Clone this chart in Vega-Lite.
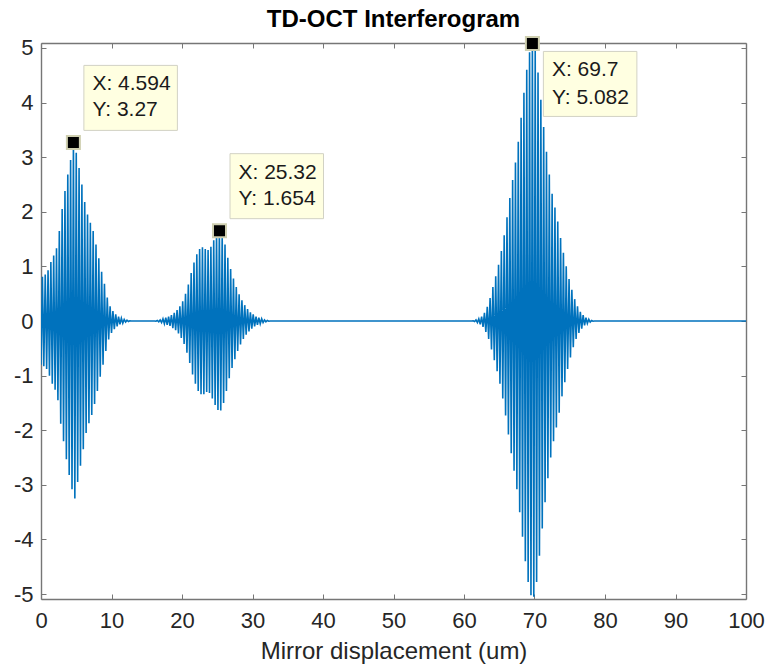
{
  "$schema": "https://vega.github.io/schema/vega-lite/v6.json",
  "width": 705,
  "height": 556,
  "autosize": {"type": "none"},
  "padding": {"left": 41, "top": 43, "right": 20, "bottom": 67},
  "background": "white",
  "config": {
    "view": {"stroke": null},
    "font": "Liberation Sans",
    "axis": {
      "domainColor": "#767676",
      "domainWidth": 1.4,
      "tickColor": "#767676",
      "tickWidth": 1,
      "tickSize": -5,
      "grid": false,
      "labelFont": "Liberation Sans",
      "labelFontSize": 22,
      "labelColor": "#262626",
      "titleFont": "Liberation Sans",
      "titleFontSize": 24,
      "titleFontWeight": "normal",
      "titleColor": "#262626",
      "zindex": 1
    }
  },
  "title": {
    "text": "TD-OCT Interferogram",
    "font": "Liberation Sans",
    "fontSize": 24,
    "fontWeight": "bold",
    "color": "#000000",
    "anchor": "middle",
    "baseline": "bottom",
    "offset": 0,
    "dy": 23
  },
  "datasets": {
    "signal": [
      {"x": 0, "y": -0.8}, {"x": 0.2, "y": 0.81}, {"x": 0.4, "y": -0.83}, {"x": 0.6, "y": 0.85}, {"x": 0.8, "y": -0.88},
      {"x": 1.0, "y": 0.93}, {"x": 1.2, "y": -1.0}, {"x": 1.4, "y": 1.08}, {"x": 1.6, "y": -1.15}, {"x": 1.8, "y": 1.2},
      {"x": 2.0, "y": -1.26}, {"x": 2.2, "y": 1.33}, {"x": 2.4, "y": -1.45}, {"x": 2.6, "y": 1.65}, {"x": 2.8, "y": -1.88},
      {"x": 3.0, "y": 2.05}, {"x": 3.2, "y": -2.2}, {"x": 3.4, "y": 2.38}, {"x": 3.6, "y": -2.53}, {"x": 3.8, "y": 2.68},
      {"x": 4.0, "y": -2.82}, {"x": 4.2, "y": 2.95}, {"x": 4.4, "y": -3.08}, {"x": 4.6, "y": 3.27}, {"x": 4.8, "y": -3.25},
      {"x": 5.0, "y": 3.08}, {"x": 5.2, "y": -2.95}, {"x": 5.4, "y": 2.8}, {"x": 5.6, "y": -2.65}, {"x": 5.8, "y": 2.5},
      {"x": 6.0, "y": -2.35}, {"x": 6.2, "y": 2.18}, {"x": 6.4, "y": -2.05}, {"x": 6.6, "y": 1.95}, {"x": 6.8, "y": -1.87},
      {"x": 7.0, "y": 1.8}, {"x": 7.2, "y": -1.72}, {"x": 7.4, "y": 1.65}, {"x": 7.6, "y": -1.52}, {"x": 7.8, "y": 1.4},
      {"x": 8.0, "y": -1.28}, {"x": 8.2, "y": 1.15}, {"x": 8.4, "y": -1.02}, {"x": 8.6, "y": 0.9}, {"x": 8.8, "y": -0.8},
      {"x": 9.0, "y": 0.68}, {"x": 9.2, "y": -0.55}, {"x": 9.4, "y": 0.43}, {"x": 9.6, "y": -0.34}, {"x": 9.8, "y": 0.27},
      {"x": 10.0, "y": -0.22}, {"x": 10.2, "y": 0.18}, {"x": 10.4, "y": -0.15}, {"x": 10.6, "y": 0.12}, {"x": 10.8, "y": -0.1},
      {"x": 11.0, "y": 0.08}, {"x": 11.2, "y": -0.06}, {"x": 11.4, "y": 0.05}, {"x": 11.6, "y": -0.04}, {"x": 11.8, "y": 0.03},
      {"x": 12.0, "y": -0.02}, {"x": 12.2, "y": 0.015}, {"x": 12.4, "y": -0.01}, {"x": 12.6, "y": 0.005}, {"x": 12.8, "y": 0},
      {"x": 16.1, "y": 0},
      {"x": 16.3, "y": -0.005}, {"x": 16.5, "y": 0.01}, {"x": 16.7, "y": -0.015}, {"x": 16.9, "y": 0.02}, {"x": 17.1, "y": -0.03},
      {"x": 17.3, "y": 0.04}, {"x": 17.5, "y": -0.05}, {"x": 17.7, "y": 0.06}, {"x": 17.9, "y": -0.07}, {"x": 18.1, "y": 0.08},
      {"x": 18.3, "y": -0.09}, {"x": 18.5, "y": 0.11}, {"x": 18.7, "y": -0.13}, {"x": 18.9, "y": 0.15}, {"x": 19.1, "y": -0.17},
      {"x": 19.3, "y": 0.2}, {"x": 19.5, "y": -0.23}, {"x": 19.7, "y": 0.27}, {"x": 19.9, "y": -0.31}, {"x": 20.1, "y": 0.36},
      {"x": 20.3, "y": -0.42}, {"x": 20.5, "y": 0.5}, {"x": 20.7, "y": -0.58}, {"x": 20.9, "y": 0.67}, {"x": 21.1, "y": -0.77},
      {"x": 21.3, "y": 0.88}, {"x": 21.5, "y": -0.98}, {"x": 21.7, "y": 1.07}, {"x": 21.9, "y": -1.15}, {"x": 22.1, "y": 1.22},
      {"x": 22.3, "y": -1.28}, {"x": 22.5, "y": 1.32}, {"x": 22.7, "y": -1.34}, {"x": 22.9, "y": 1.35}, {"x": 23.1, "y": -1.34},
      {"x": 23.3, "y": 1.32}, {"x": 23.5, "y": -1.3}, {"x": 23.7, "y": 1.3}, {"x": 23.9, "y": -1.32}, {"x": 24.1, "y": 1.36},
      {"x": 24.3, "y": -1.42}, {"x": 24.5, "y": 1.48}, {"x": 24.7, "y": -1.54}, {"x": 24.9, "y": 1.6}, {"x": 25.1, "y": -1.63},
      {"x": 25.3, "y": 1.654}, {"x": 25.5, "y": -1.64}, {"x": 25.7, "y": 1.58}, {"x": 25.9, "y": -1.5}, {"x": 26.1, "y": 1.4},
      {"x": 26.3, "y": -1.28}, {"x": 26.5, "y": 1.16}, {"x": 26.7, "y": -1.05}, {"x": 26.9, "y": 0.95}, {"x": 27.1, "y": -0.86},
      {"x": 27.3, "y": 0.78}, {"x": 27.5, "y": -0.7}, {"x": 27.7, "y": 0.62}, {"x": 27.9, "y": -0.55}, {"x": 28.1, "y": 0.49},
      {"x": 28.3, "y": -0.43}, {"x": 28.5, "y": 0.38}, {"x": 28.7, "y": -0.33}, {"x": 28.9, "y": 0.29}, {"x": 29.1, "y": -0.25},
      {"x": 29.3, "y": 0.22}, {"x": 29.5, "y": -0.19}, {"x": 29.7, "y": 0.16}, {"x": 29.9, "y": -0.14}, {"x": 30.1, "y": 0.12},
      {"x": 30.3, "y": -0.1}, {"x": 30.5, "y": 0.08}, {"x": 30.7, "y": -0.07}, {"x": 30.9, "y": 0.06}, {"x": 31.1, "y": -0.05},
      {"x": 31.3, "y": 0.04}, {"x": 31.5, "y": -0.03}, {"x": 31.7, "y": 0.02}, {"x": 31.9, "y": -0.015}, {"x": 32.1, "y": 0.01},
      {"x": 32.3, "y": -0.005}, {"x": 32.5, "y": 0},
      {"x": 61.1, "y": 0},
      {"x": 61.3, "y": 0.005}, {"x": 61.5, "y": -0.01}, {"x": 61.7, "y": 0.02}, {"x": 61.9, "y": -0.03}, {"x": 62.1, "y": 0.04},
      {"x": 62.3, "y": -0.06}, {"x": 62.5, "y": 0.08}, {"x": 62.7, "y": -0.11}, {"x": 62.9, "y": 0.15}, {"x": 63.1, "y": -0.2},
      {"x": 63.3, "y": 0.26}, {"x": 63.5, "y": -0.33}, {"x": 63.7, "y": 0.42}, {"x": 63.9, "y": -0.52}, {"x": 64.1, "y": 0.62},
      {"x": 64.3, "y": -0.72}, {"x": 64.5, "y": 0.82}, {"x": 64.7, "y": -0.92}, {"x": 64.9, "y": 1.03}, {"x": 65.1, "y": -1.15},
      {"x": 65.3, "y": 1.28}, {"x": 65.5, "y": -1.42}, {"x": 65.7, "y": 1.57}, {"x": 65.9, "y": -1.73}, {"x": 66.1, "y": 1.9},
      {"x": 66.3, "y": -2.08}, {"x": 66.5, "y": 2.25}, {"x": 66.7, "y": -2.42}, {"x": 66.9, "y": 2.58}, {"x": 67.1, "y": -2.74},
      {"x": 67.3, "y": 2.9}, {"x": 67.5, "y": -3.08}, {"x": 67.7, "y": 3.28}, {"x": 67.9, "y": -3.5}, {"x": 68.1, "y": 3.72},
      {"x": 68.3, "y": -3.95}, {"x": 68.5, "y": 4.18}, {"x": 68.7, "y": -4.4}, {"x": 68.9, "y": 4.6}, {"x": 69.1, "y": -4.78},
      {"x": 69.3, "y": 4.92}, {"x": 69.5, "y": -5.02}, {"x": 69.7, "y": 5.082}, {"x": 69.9, "y": -5.05}, {"x": 70.1, "y": 4.95},
      {"x": 70.3, "y": -4.78}, {"x": 70.5, "y": 4.55}, {"x": 70.7, "y": -4.3}, {"x": 70.9, "y": 4.05}, {"x": 71.1, "y": -3.8},
      {"x": 71.3, "y": 3.55}, {"x": 71.5, "y": -3.32}, {"x": 71.7, "y": 3.1}, {"x": 71.9, "y": -2.88}, {"x": 72.1, "y": 2.68},
      {"x": 72.3, "y": -2.5}, {"x": 72.5, "y": 2.33}, {"x": 72.7, "y": -2.2}, {"x": 72.9, "y": 2.08}, {"x": 73.1, "y": -1.95},
      {"x": 73.3, "y": 1.82}, {"x": 73.5, "y": -1.68}, {"x": 73.7, "y": 1.52}, {"x": 73.9, "y": -1.38}, {"x": 74.1, "y": 1.25},
      {"x": 74.3, "y": -1.12}, {"x": 74.5, "y": 1.0}, {"x": 74.7, "y": -0.88}, {"x": 74.9, "y": 0.77}, {"x": 75.1, "y": -0.67},
      {"x": 75.3, "y": 0.57}, {"x": 75.5, "y": -0.48}, {"x": 75.7, "y": 0.4}, {"x": 75.9, "y": -0.33}, {"x": 76.1, "y": 0.27},
      {"x": 76.3, "y": -0.22}, {"x": 76.5, "y": 0.17}, {"x": 76.7, "y": -0.14}, {"x": 76.9, "y": 0.11}, {"x": 77.1, "y": -0.08},
      {"x": 77.3, "y": 0.06}, {"x": 77.5, "y": -0.045}, {"x": 77.7, "y": 0.03}, {"x": 77.9, "y": -0.02}, {"x": 78.1, "y": 0.01},
      {"x": 78.3, "y": -0.005}, {"x": 78.5, "y": 0},
      {"x": 100, "y": 0}
    ],
    "tips": [
      {"x": 4.594, "y": 3.27, "label": "X: 4.594\nY: 3.27"},
      {"x": 25.32, "y": 1.654, "label": "X: 25.32\nY: 1.654"},
      {"x": 69.7, "y": 5.082, "label": "X: 69.7\nY: 5.082"}
    ]
  },
  "layer": [
    {
      "data": {"name": "signal"},
      "mark": {"type": "line", "color": "#0072BD", "strokeWidth": 1.6, "clip": true},
      "encoding": {
        "x": {
          "field": "x", "type": "quantitative",
          "scale": {"domain": [0, 100], "nice": false, "zero": false},
          "axis": {"orient": "bottom", "values": [0, 10, 20, 30, 40, 50, 60, 70, 80, 90, 100], "labelPadding": 16, "title": "Mirror displacement (um)", "titlePadding": 8, "labelFlush": false}
        },
        "y": {
          "field": "y", "type": "quantitative",
          "scale": {"domain": [-5.09, 5.09], "nice": false, "zero": false},
          "axis": {"orient": "left", "values": [-5, -4, -3, -2, -1, 0, 1, 2, 3, 4, 5], "labelPadding": 13, "title": null, "labelExpr": "'' + datum.value", "labelFlush": false}
        }
      }
    },
    {
      "data": {"name": "tips"},
      "transform": [{"filter": "datum.y < 5"}],
      "mark": {"type": "rect", "fill": "#ffffe1", "stroke": "#d2d2c4", "strokeWidth": 1, "xOffset": 10.5, "x2Offset": 104, "yOffset": -12, "y2Offset": -77},
      "encoding": {
        "x": {"field": "x", "type": "quantitative", "axis": {"orient": "top", "values": [0, 10, 20, 30, 40, 50, 60, 70, 80, 90, 100], "labels": false, "title": null}},
        "x2": {"field": "x"},
        "y": {"field": "y", "type": "quantitative", "axis": {"orient": "right", "values": [-5, -4, -3, -2, -1, 0, 1, 2, 3, 4, 5], "labels": false, "title": null}},
        "y2": {"field": "y"}
      }
    },
    {
      "data": {"name": "tips"},
      "transform": [{"filter": "datum.y >= 5"}],
      "mark": {"type": "rect", "fill": "#ffffe1", "stroke": "#d2d2c4", "strokeWidth": 1, "xOffset": 11, "x2Offset": 104.5, "yOffset": 8, "y2Offset": 73},
      "encoding": {
        "x": {"field": "x", "type": "quantitative", "axis": null},
        "x2": {"field": "x"},
        "y": {"field": "y", "type": "quantitative", "axis": null},
        "y2": {"field": "y"}
      }
    },
    {
      "data": {"name": "tips"},
      "transform": [{"filter": "datum.y < 5"}],
      "mark": {"type": "text", "align": "left", "baseline": "middle", "lineBreak": "\n", "lineHeight": 26, "dx": 19, "dy": -58, "font": "Liberation Sans", "fontSize": 21, "color": "#1a1a1a"},
      "encoding": {
        "x": {"field": "x", "type": "quantitative", "axis": null},
        "y": {"field": "y", "type": "quantitative", "axis": null},
        "text": {"field": "label"}
      }
    },
    {
      "data": {"name": "tips"},
      "transform": [{"filter": "datum.y >= 5"}],
      "mark": {"type": "text", "align": "left", "baseline": "middle", "lineBreak": "\n", "lineHeight": 28, "dx": 19.5, "dy": 26.5, "font": "Liberation Sans", "fontSize": 21, "color": "#1a1a1a"},
      "encoding": {
        "x": {"field": "x", "type": "quantitative", "axis": null},
        "y": {"field": "y", "type": "quantitative", "axis": null},
        "text": {"field": "label"}
      }
    },
    {
      "data": {"name": "tips"},
      "mark": {"type": "point", "shape": "square", "filled": true, "fill": "#000000", "stroke": "#cfcfb0", "strokeWidth": 2, "size": 169, "opacity": 1},
      "encoding": {
        "x": {"field": "x", "type": "quantitative", "axis": null},
        "y": {"field": "y", "type": "quantitative", "axis": null}
      }
    }
  ],
  "resolve": {"axis": {"x": "independent", "y": "independent"}}
}
